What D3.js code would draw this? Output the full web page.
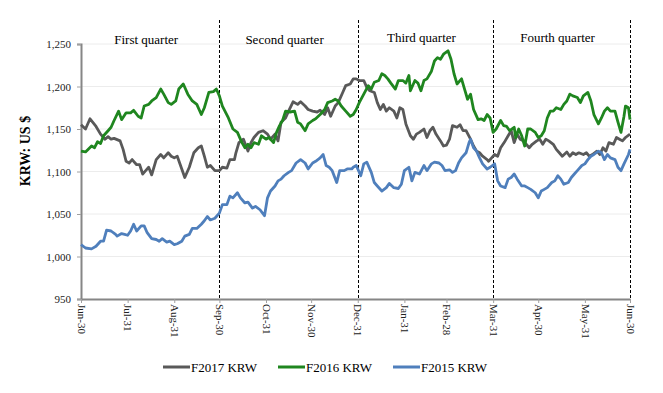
<!DOCTYPE html>
<html>
<head>
<meta charset="utf-8">
<script src="https://cdn.jsdelivr.net/npm/d3@7"></script>
<style>
  body { margin: 0; background: #fff; }
  text { font-family: "Liberation Serif", "Times New Roman", serif; }
</style>
</head>
<body>
<div id="chart"></div>
<script>
// days counted from Jun-30 (start of the fiscal year)
var tickDays = [0, 31, 62, 92, 123, 153, 184, 215, 243, 274, 304, 335, 365];
var tickLabels = ["Jun-30", "Jul-31", "Aug-31", "Sep-30", "Oct-31", "Nov-30", "Dec-31",
                  "Jan-31", "Feb-28", "Mar-31", "Apr-30", "May-31", "Jun-30"];
var quarterEnds = [92, 184, 274, 365];
var quarterLabels = ["First quarter", "Second quarter", "Third quarter", "Fourth quarter"];
var yTicks = [950, 1000, 1050, 1100, 1150, 1200, 1250];
var seriesNames = ["F2017 KRW", "F2016 KRW", "F2015 KRW"];

var f2017 = [[0,1155],[3,1150],[6,1162],[10,1153],[13,1144],[16,1138],[18,1141],[20,1138],[22,1139],[26,1136],[28,1126],[30,1112],[32,1110],[34,1114],[37,1108],[39,1108],[41,1097],[43,1101],[45,1105],[47,1096],[50,1114],[53,1120],[55,1116],[58,1122],[60,1118],[62,1116],[64,1118],[66,1108],[69,1093],[72,1105],[75,1122],[78,1128],[80,1130],[82,1118],[84,1105],[86,1107],[89,1101],[92,1101],[94,1105],[97,1104],[99,1114],[102,1114],[103,1122],[105,1134],[108,1138],[111,1124],[113,1134],[115,1140],[118,1146],[121,1148],[124,1144],[126,1138],[129,1144],[131,1136],[133,1158],[136,1163],[138,1171],[141,1182],[144,1179],[146,1182],[149,1177],[151,1173],[154,1171],[157,1170],[159,1172],[162,1167],[164,1175],[166,1165],[169,1177],[171,1181],[174,1193],[176,1201],[179,1203],[181,1209],[183,1209],[185,1207],[188,1207],[190,1199],[192,1195],[195,1193],[197,1181],[199,1173],[201,1179],[203,1171],[205,1175],[208,1171],[210,1163],[212,1175],[214,1173],[216,1156],[219,1142],[221,1138],[223,1144],[225,1146],[228,1150],[230,1140],[232,1148],[234,1152],[236,1144],[239,1136],[241,1130],[243,1131],[245,1138],[247,1154],[250,1152],[252,1155],[254,1148],[256,1148],[259,1138],[261,1130],[263,1124],[265,1122],[267,1118],[270,1114],[271,1112],[273,1116],[275,1120],[277,1118],[279,1128],[282,1136],[284,1142],[286,1148],[288,1134],[290,1144],[292,1138],[294,1136],[296,1132],[298,1128],[300,1132],[303,1136],[305,1138],[307,1132],[309,1138],[311,1136],[314,1132],[316,1126],[318,1122],[320,1118],[323,1123],[325,1118],[327,1122],[329,1120],[331,1122],[334,1120],[336,1122],[338,1118],[340,1120],[343,1124],[345,1120],[347,1128],[349,1124],[351,1134],[354,1132],[356,1140],[358,1138],[360,1136],[362,1140],[365,1144]];

var f2016 = [[0,1124],[3,1123],[7,1130],[9,1128],[11,1135],[13,1133],[15,1142],[18,1148],[20,1152],[22,1160],[25,1171],[27,1161],[30,1169],[33,1169],[35,1172],[38,1165],[40,1163],[42,1177],[45,1179],[47,1183],[50,1187],[53,1197],[55,1191],[58,1181],[60,1179],[63,1183],[65,1197],[68,1203],[71,1191],[74,1183],[77,1179],[80,1167],[82,1175],[85,1193],[88,1194],[90,1197],[92,1189],[94,1177],[98,1163],[101,1150],[104,1146],[107,1134],[109,1128],[111,1132],[113,1128],[115,1134],[118,1132],[120,1142],[123,1138],[125,1140],[128,1134],[130,1146],[132,1154],[134,1160],[136,1171],[139,1170],[142,1171],[144,1158],[146,1156],[149,1148],[151,1156],[154,1160],[156,1162],[159,1167],[162,1173],[164,1181],[167,1183],[169,1185],[171,1183],[173,1177],[176,1171],[179,1165],[181,1167],[183,1173],[185,1181],[188,1191],[191,1201],[193,1197],[195,1205],[198,1207],[200,1215],[202,1213],[204,1209],[206,1204],[209,1197],[211,1207],[214,1207],[216,1204],[218,1213],[219,1195],[222,1207],[224,1204],[226,1195],[228,1207],[230,1209],[233,1218],[235,1230],[237,1234],[239,1232],[241,1238],[244,1242],[246,1232],[248,1215],[250,1203],[253,1209],[255,1197],[257,1185],[259,1191],[261,1173],[264,1161],[266,1162],[268,1160],[270,1167],[272,1163],[274,1146],[276,1150],[279,1160],[281,1154],[283,1153],[285,1148],[288,1152],[289,1140],[291,1150],[293,1142],[295,1130],[297,1150],[299,1150],[302,1146],[304,1140],[306,1142],[308,1148],[310,1163],[312,1171],[314,1171],[316,1175],[319,1173],[321,1179],[323,1183],[325,1191],[327,1189],[330,1187],[332,1181],[334,1189],[337,1193],[339,1183],[341,1167],[344,1156],[346,1163],[348,1171],[350,1175],[352,1171],[355,1171],[357,1158],[359,1146],[361,1165],[362,1177],[364,1175],[365,1161]];

var f2015 = [[0,1014],[3,1010],[7,1009],[10,1012],[13,1018],[15,1018],[17,1031],[20,1030],[23,1026],[24,1024],[27,1027],[29,1026],[31,1025],[33,1030],[35,1038],[37,1030],[40,1036],[42,1036],[44,1028],[47,1021],[50,1020],[52,1018],[54,1021],[57,1017],[59,1018],[62,1014],[64,1015],[67,1018],[69,1024],[72,1026],[74,1033],[77,1033],[80,1038],[82,1042],[84,1047],[86,1043],[89,1045],[92,1051],[94,1061],[97,1061],[99,1071],[101,1069],[104,1075],[106,1069],[109,1063],[111,1064],[114,1057],[116,1059],[119,1055],[122,1048],[124,1069],[126,1077],[129,1083],[131,1089],[133,1091],[135,1095],[138,1099],[140,1101],[143,1110],[146,1114],[149,1110],[151,1103],[154,1110],[156,1112],[159,1116],[161,1120],[163,1107],[165,1105],[167,1101],[170,1087],[172,1101],[175,1101],[177,1103],[180,1103],[181,1105],[183,1107],[186,1095],[188,1109],[190,1111],[193,1099],[195,1087],[197,1083],[200,1077],[203,1081],[205,1086],[208,1081],[211,1080],[213,1085],[215,1101],[218,1105],[220,1089],[222,1099],[225,1097],[228,1107],[230,1101],[233,1109],[235,1111],[238,1110],[240,1107],[242,1101],[245,1102],[247,1099],[249,1101],[251,1110],[253,1116],[256,1122],[258,1134],[259,1138],[261,1128],[263,1124],[265,1116],[267,1109],[270,1103],[272,1105],[275,1109],[277,1089],[279,1083],[282,1081],[284,1091],[286,1093],[288,1097],[290,1091],[293,1083],[295,1083],[297,1081],[299,1079],[302,1075],[304,1069],[306,1077],[308,1079],[310,1081],[313,1087],[315,1089],[317,1095],[319,1091],[321,1085],[324,1087],[326,1093],[328,1097],[330,1101],[333,1107],[335,1109],[337,1114],[339,1118],[341,1120],[344,1124],[346,1122],[348,1114],[350,1120],[352,1116],[355,1114],[357,1105],[359,1101],[361,1109],[364,1120],[365,1126]];

var colours = ["#595959", "#1f861f", "#4f7fbc"];

var width = 663, height = 393;
var margin = {top: 44, left: 81, right: 33, bottom: 94};
var plotWidth = width - margin.left - margin.right;
var plotHeight = height - margin.top - margin.bottom;

var svg = d3.select("#chart").append("svg")
  .attr("width", width)
  .attr("height", height);

var xScale = d3.scaleLinear().domain([0, 365]).range([margin.left, margin.left + plotWidth]);
var yScale = d3.scaleLinear().domain([950, 1250]).range([margin.top + plotHeight, margin.top]);

// gridlines
svg.append("g").selectAll("line")
  .data(yTicks.slice(1))
  .enter().append("line")
  .attr("x1", xScale(0))
  .attr("x2", xScale(365))
  .attr("y1", d => yScale(d))
  .attr("y2", d => yScale(d))
  .style("stroke", "#ececec")
  .style("stroke-width", "1px");

// quarter dividers
svg.append("g").selectAll("line")
  .data(quarterEnds)
  .enter().append("line")
  .attr("x1", d => Math.round(xScale(d)) + 0.5)
  .attr("x2", d => Math.round(xScale(d)) + 0.5)
  .attr("y1", 20)
  .attr("y2", yScale(950))
  .style("stroke", "#000")
  .style("stroke-width", "1px")
  .style("stroke-dasharray", "3,2");

// quarter labels
var quarterStarts = [0].concat(quarterEnds.slice(0, 3));
svg.append("g").selectAll("text")
  .data(quarterLabels)
  .enter().append("text")
  .attr("x", (d, i) => (xScale(quarterStarts[i]) + xScale(quarterEnds[i])) / 2 - 4)
  .attr("y", (d, i) => i < 2 ? 44 : 42)
  .attr("text-anchor", "middle")
  .style("font-size", "13px")
  .style("fill", "#000")
  .text(d => d);

// axes
var yAxis = d3.axisLeft(yScale)
  .tickValues(yTicks)
  .tickFormat(d3.format(","))
  .tickSize(4)
  .tickSizeOuter(4)
  .tickPadding(6);
var gy = svg.append("g")
  .attr("transform", "translate(" + margin.left + ",0)")
  .call(yAxis);

var xAxis = d3.axisBottom(xScale)
  .tickValues(tickDays)
  .tickFormat((d, i) => tickLabels[i])
  .tickSize(4)
  .tickSizeOuter(0);
var gx = svg.append("g")
  .attr("transform", "translate(0," + (margin.top + plotHeight) + ")")
  .call(xAxis);

gx.selectAll("text")
  .attr("transform", "rotate(90)")
  .attr("x", 5)
  .attr("y", 0)
  .attr("dy", "0.35em")
  .style("text-anchor", "start");

[gx, gy].forEach(function(g) {
  g.select(".domain").style("stroke", "#868686").style("stroke-width", "2px");
  g.selectAll(".tick line").style("stroke", "#a0a0a0");
  g.selectAll("text")
    .style("font-family", "'Liberation Serif', 'Times New Roman', serif")
    .style("font-size", "11px")
    .style("fill", "#222");
});

// y axis title
svg.append("text")
  .attr("transform", "translate(25,151) rotate(-90)")
  .attr("text-anchor", "middle")
  .attr("dominant-baseline", "central")
  .style("font-size", "14px")
  .style("font-weight", "700")
  .text("KRW: US $");

// lines
var line = d3.line()
  .x(d => xScale(d[0]))
  .y(d => yScale(d[1]));

[f2017, f2016, f2015].forEach(function(s, i) {
  svg.append("path")
    .datum(s)
    .attr("d", line)
    .style("fill", "none")
    .style("stroke", colours[i])
    .style("stroke-width", "2.8px")
    .style("stroke-linejoin", "round");
});

// legend
var legend = svg.append("g").selectAll("g")
  .data(seriesNames)
  .enter().append("g")
  .attr("transform", (d, i) => "translate(" + (163 + i * 115) + ",367)");

legend.append("line")
  .attr("x1", 0).attr("x2", 27)
  .attr("y1", 0).attr("y2", 0)
  .style("stroke", (d, i) => colours[i])
  .style("stroke-width", "3px");

legend.append("text")
  .attr("x", 28)
  .attr("y", 0)
  .attr("dominant-baseline", "central")
  .style("font-size", "13px")
  .style("fill", "#000")
  .text(d => d);
</script>
</body>
</html>
